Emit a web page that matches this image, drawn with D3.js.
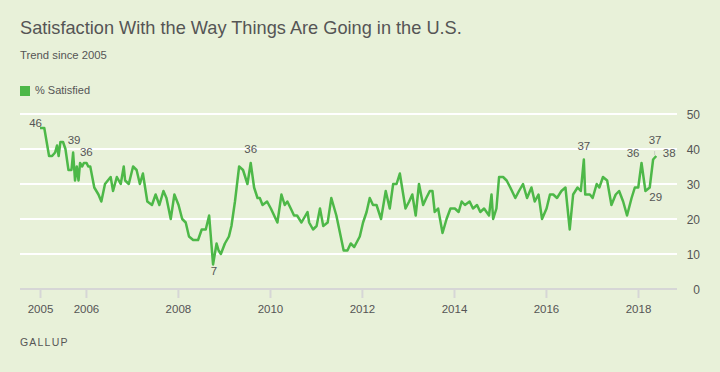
<!DOCTYPE html>
<html>
<head>
<meta charset="utf-8">
<script src="https://cdn.jsdelivr.net/npm/d3@7"></script>
<style>
  body { margin: 0; background: #e8f1d9; }
  svg { display: block; font-family: "Liberation Sans", Arial, sans-serif; }
</style>
</head>
<body>
<svg width="720" height="372"></svg>
<script>
// % satisfied, poll dates (Gallup trend since 2005)
var dates = ["2005-01-01","2005-02-04","2005-03-14","2005-04-07","2005-05-01","2005-05-16","2005-05-29","2005-06-12","2005-07-03","2005-07-22",
  "2005-08-15","2005-09-08","2005-09-21","2005-10-06","2005-10-20","2005-11-03","2005-11-15","2005-12-02","2005-12-15","2006-01-06",
  "2006-01-19","2006-02-04","2006-03-08","2006-04-10","2006-05-03","2006-06-01","2006-07-16","2006-08-04","2006-09-03","2006-10-04",
  "2006-10-28","2006-11-08","2006-12-07","2007-01-10","2007-02-07","2007-03-05","2007-03-29","2007-05-03","2007-06-09","2007-07-08",
  "2007-08-07","2007-09-08","2007-10-02","2007-11-05","2007-12-04","2008-01-06","2008-02-04","2008-03-03","2008-03-29","2008-05-01",
  "2008-06-09","2008-07-08","2008-08-09","2008-09-05","2008-10-06","2008-11-03","2008-11-19","2008-12-07","2009-01-08","2009-02-09",
  "2009-03-01","2009-03-29","2009-05-01","2009-06-01","2009-07-06","2009-08-01","2009-08-28","2009-09-24","2009-10-12","2009-11-03",
  "2009-12-09","2010-01-08","2010-03-01","2010-04-02","2010-04-28","2010-05-19","2010-06-15","2010-07-11","2010-08-04","2010-09-08",
  "2010-10-26","2010-11-08","2010-12-09","2011-01-06","2011-02-02","2011-02-28","2011-04-04","2011-05-03","2011-06-12","2011-08-09",
  "2011-09-08","2011-10-04","2011-11-01","2011-12-15","2012-01-10","2012-02-07","2012-03-03","2012-03-29","2012-04-26","2012-06-01",
  "2012-07-08","2012-08-09","2012-09-05","2012-10-02","2012-10-28","2012-12-12","2013-01-10","2013-02-04","2013-03-03","2013-03-29",
  "2013-05-01","2013-05-26","2013-06-23","2013-07-14","2013-08-01","2013-08-28","2013-10-02","2013-11-03","2013-12-04","2014-01-08",
  "2014-02-07","2014-03-03","2014-03-29","2014-05-05","2014-06-01","2014-07-03","2014-07-29","2014-08-28","2014-10-06","2014-10-26",
  "2014-11-08","2014-12-04","2014-12-25","2015-01-26","2015-02-23","2015-03-24","2015-05-03","2015-06-01","2015-07-03","2015-08-04",
  "2015-09-08","2015-10-04","2015-11-03","2015-12-01","2016-01-06","2016-02-02","2016-02-28","2016-03-29","2016-05-03","2016-06-04",
  "2016-07-08","2016-08-04","2016-09-08","2016-10-04","2016-10-28","2016-11-08","2016-12-15","2017-01-06","2017-02-07","2017-02-28",
  "2017-03-29","2017-05-01","2017-06-04","2017-07-08","2017-08-04","2017-09-05","2017-10-06","2017-11-11","2017-12-07","2018-01-03",
  "2018-01-29","2018-03-01","2018-04-04","2018-05-01","2018-05-26"];

var satisfied = [46,46,38,38,39,41,38,42,42,40,
  34,34,39,31,35,31,36,35,36,36,
  35,35,29,27,25,30,32,28,32,30,
  35,31,30,35,34,30,33,25,24,27,
  24,28,26,20,27,24,20,19,15,14,
  14,17,17,21,7,13,11,10,13,15,
  18,25,35,34,30,36,29,26,26,24,
  25,23,19,27,24,25,23,21,21,19,
  22,19,17,18,23,18,19,26,21,11,
  11,13,12,15,19,22,26,24,24,20,
  28,23,30,30,33,23,25,27,21,30,
  24,26,28,28,22,23,16,20,23,23,
  22,25,24,25,23,24,22,23,21,27,
  20,23,32,32,31,29,26,28,30,26,
  29,25,27,20,23,27,27,26,28,29,
  17,27,29,28,37,27,27,26,30,29,
  32,31,24,27,28,25,21,26,29,29,
  36,28,29,37,38];

var yearTicks = [2005, 2006, 2008, 2010, 2012, 2014, 2016, 2018];
var valueTicks = [0, 10, 20, 30, 40, 50];

// labelled points
var labelDates = ["2005-01-01","2005-09-21","2005-12-15","2008-10-06","2009-08-01","2016-10-28","2018-01-29","2018-05-01","2018-04-04","2018-05-26"];

var labelPos = [
  {dx: 2, dy: -1.5, anchor: "end"},
  {dx: 1, dy: -9, anchor: "middle"},
  {dx: 2.5, dy: -7, anchor: "middle"},
  {dx: 1, dy: 10, anchor: "middle"},
  {dx: 0, dy: -10, anchor: "middle"},
  {dx: 0, dy: -9.5, anchor: "middle"},
  {dx: -2, dy: -6, anchor: "end"},
  {dx: 2, dy: -16, anchor: "middle", leader: true},
  {dx: 6, dy: 13, anchor: "middle"},
  {dx: 6.5, dy: 1, anchor: "start"}
];

var parse = d3.timeParse("%Y-%m-%d");
var data = dates.map(function(d, i) { return {date: parse(d), value: satisfied[i]}; });

var svg = d3.select("svg"),
    left = 20, right = 677,
    textColor = "#555",
    green = "#4db848";

var x = d3.scaleTime()
    .domain([new Date(2005, 0, 1), new Date(2018, 0, 1)])
    .range([40, 638]);
var y = d3.scaleLinear().domain([0, 50]).range([289, 114]);

// titles
svg.append("text").attr("x", 20).attr("y", 34)
    .attr("font-size", "18.2px").attr("fill", textColor)
    .text("Satisfaction With the Way Things Are Going in the U.S.");
svg.append("text").attr("x", 20).attr("y", 58.7)
    .attr("font-size", "11.3px").attr("fill", textColor)
    .text("Trend since 2005");

// legend
svg.append("rect").attr("x", 20).attr("y", 86).attr("width", 10).attr("height", 10).attr("fill", green);
svg.append("text").attr("x", 35).attr("y", 94.3)
    .attr("font-size", "11px").attr("fill", textColor)
    .text("% Satisfied");

// gridlines
svg.append("g").selectAll("line")
    .data(valueTicks.filter(function(d) { return d > 0; }))
  .enter().append("line")
    .attr("x1", left).attr("x2", right)
    .attr("y1", function(d) { return y(d); })
    .attr("y2", function(d) { return y(d); })
    .attr("stroke", "#fff").attr("stroke-width", 2);

// y axis on the right
var yAxis = svg.append("g")
    .attr("transform", "translate(700,0)")
    .call(d3.axisRight(y).tickValues(valueTicks).tickSize(0).tickPadding(0));
yAxis.select(".domain").remove();
yAxis.selectAll("text")
    .attr("text-anchor", "end").attr("x", 0).attr("dy", "0.35em")
    .attr("font-size", "12px").attr("font-family", "Liberation Sans, Arial, sans-serif")
    .attr("fill", textColor);

// x axis
svg.append("line")
    .attr("x1", left).attr("x2", right)
    .attr("y1", y(0)).attr("y2", y(0))
    .attr("stroke", "#d6d6d6").attr("stroke-width", 2);

var xAxis = svg.append("g")
    .attr("transform", "translate(0," + y(0) + ")")
    .call(d3.axisBottom(x)
      .tickValues(yearTicks.map(function(d) { return new Date(d, 0, 1); }))
      .tickFormat(d3.timeFormat("%Y"))
      .tickSize(9).tickPadding(7));
xAxis.select(".domain").remove();
xAxis.selectAll("line").attr("stroke", "#d6d6d6").attr("stroke-width", 2);
xAxis.selectAll("text")
    .attr("font-size", "11.5px").attr("font-family", "Liberation Sans, Arial, sans-serif")
    .attr("fill", textColor);

// line
var line = d3.line()
    .x(function(d) { return x(d.date); })
    .y(function(d) { return y(d.value); });

svg.append("path")
    .datum(data)
    .attr("fill", "none")
    .attr("stroke", green)
    .attr("stroke-width", 2.5)
    .attr("stroke-linejoin", "round")
    .attr("d", line);

// point labels
labelDates.forEach(function(ds, i) {
  var idx = dates.indexOf(ds),
      px = x(data[idx].date), py = y(data[idx].value),
      p = labelPos[i];
  svg.append("text")
      .attr("x", px + p.dx).attr("y", py + p.dy)
      .attr("text-anchor", p.anchor)
      .attr("font-size", "11.5px").attr("fill", textColor)
      .text(data[idx].value);
  if (p.leader) {
    svg.append("line")
        .attr("x1", px + 1.5).attr("x2", px + 1.5)
        .attr("y1", py + p.dy + 8).attr("y2", py - 4)
        .attr("stroke", "#aaa").attr("stroke-width", 1)
        .attr("stroke-dasharray", "1,1");
  }
});

// source
svg.append("text").attr("x", 20).attr("y", 345.7)
    .attr("font-size", "10.5px").attr("letter-spacing", "1.2px")
    .attr("fill", textColor)
    .text("GALLUP");
</script>
</body>
</html>
